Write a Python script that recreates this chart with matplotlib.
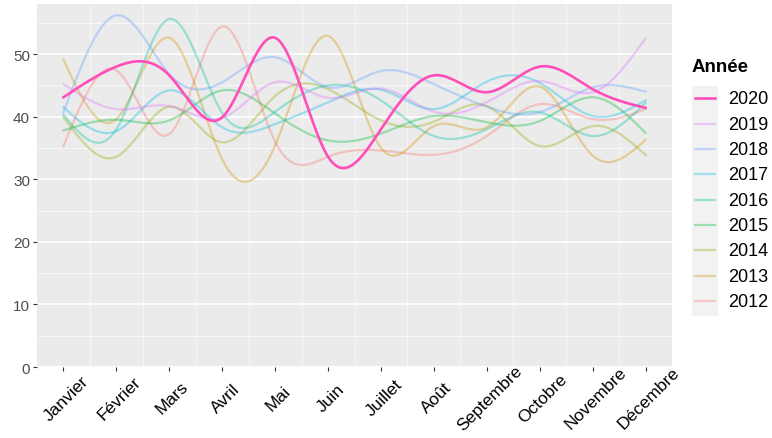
import numpy as np
import matplotlib
matplotlib.use("Agg")
import matplotlib.pyplot as plt
import matplotlib.transforms as mtransforms
from matplotlib.patches import Rectangle

plt.rcParams["font.family"] = ["Liberation Sans", "DejaVu Sans"]

months = ["Janvier", "Février", "Mars", "Avril", "Mai", "Juin", "Juillet",
          "Août", "Septembre", "Octobre", "Novembre", "Décembre"]
years = ["2020", "2019", "2018", "2017", "2016", "2015", "2014", "2013", "2012"]

v2020 = [43.1, 48.0, 46.6, 39.9, 52.6, 33.6, 38.0, 46.6, 43.9, 48.0, 44.4, 41.4]
v2019 = [45.2, 41.2, 41.7, 39.8, 45.5, 43.0, 44.5, 40.8, 42.3, 45.7, 43.9, 52.5]
v2018 = [40.7, 56.2, 46.8, 45.5, 49.5, 44.7, 47.3, 45.2, 41.6, 40.7, 44.7, 44.0]
v2017 = [41.5, 37.7, 44.2, 38.3, 38.8, 42.3, 44.3, 41.2, 45.6, 45.4, 40.1, 42.6]
v2016 = [40.3, 38.0, 55.6, 40.6, 40.8, 45.0, 42.6, 36.9, 38.0, 40.7, 36.9, 42.2]
v2015 = [37.8, 39.5, 39.4, 44.2, 40.5, 36.2, 37.3, 40.1, 39.1, 39.3, 43.1, 37.4]
v2014 = [39.9, 33.6, 41.6, 35.9, 43.3, 44.4, 39.4, 39.2, 41.7, 35.3, 38.5, 33.9]
v2013 = [49.1, 39.6, 52.6, 33.2, 35.4, 52.9, 35.0, 38.5, 38.3, 44.8, 33.8, 36.3]
v2012 = [35.3, 47.4, 37.2, 54.4, 36.0, 33.6, 34.6, 33.9, 36.9, 42.0, 39.6, 41.2]

series = [v2020, v2019, v2018, v2017, v2016, v2015, v2014, v2013, v2012]
colors = ["#FF4DBA", "#DB72FB", "#619CFF", "#00B9E3", "#00C19F",
          "#00BA38", "#93AA00", "#D39200", "#F8766D"]


def smooth(y, n=30):
    """Natural cubic spline through equally spaced monthly values."""
    y = np.asarray(y, dtype=float)
    k = len(y)
    a = np.zeros((k, k))
    b = np.zeros(k)
    a[0, 0] = a[-1, -1] = 1
    for i in range(1, k - 1):
        a[i, i - 1], a[i, i], a[i, i + 1] = 1, 4, 1
        b[i] = 6 * (y[i + 1] - 2 * y[i] + y[i - 1])
    m = np.linalg.solve(a, b)
    xs, ys = [], []
    for i in range(k - 1):
        u = np.linspace(0, 1, n, endpoint=(i == k - 2))
        s = ((1 - u) * y[i] + u * y[i + 1]
             + ((1 - u) ** 3 - (1 - u)) * m[i] / 6 + (u ** 3 - u) * m[i + 1] / 6)
        xs.append(i + 1 + u)
        ys.append(s)
    return np.concatenate(xs), np.concatenate(ys)


fig = plt.figure(figsize=(7.72, 4.39), dpi=100)
ax = fig.add_axes([37 / 772, 1 - 368 / 439, 635 / 772, 363 / 439])
ax.set_facecolor("#EBEBEB")

# grid in ggplot style
ax.set_yticks(range(0, 51, 10))
ax.set_yticks(range(5, 56, 10), minor=True)
ax.set_xticks(range(1, 13))
ax.set_xticks(np.arange(1.5, 12, 1), minor=True)
ax.grid(True, which="major", axis="y", color="white", lw=1.2)
ax.grid(True, which="minor", axis="both", color="white", lw=0.6, alpha=0.7)
ax.set_axisbelow(True)

for vals, col, yr in reversed(list(zip(series, colors, years))):
    xs, ys = smooth(vals)
    if yr == "2020":
        ax.plot(xs, ys, color=col, lw=1.9, zorder=5)
    else:
        ax.plot(xs, ys, color=col, lw=1.6, alpha=0.35, zorder=3)

ax.set_xlim(0.5, 12.5)
ax.set_ylim(0, 58)
for s in ax.spines.values():
    s.set_visible(False)
ax.tick_params(axis="both", which="major", length=3, width=0.8, color="#333333")
ax.tick_params(axis="both", which="minor", length=0)
ax.tick_params(axis="y", labelsize=11, labelcolor="#4D4D4D", pad=2)
ax.tick_params(axis="x", labelsize=12.5, labelcolor="black", pad=19)
ax.set_xticklabels(months, rotation=45, ha="center", va="center",
                   rotation_mode="anchor")
shift = mtransforms.ScaledTranslation(3 / 100, 0, fig.dpi_scale_trans)
for lab in ax.get_xticklabels():
    lab.set_transform(lab.get_transform() + shift)

# legend drawn in pixel coordinates
lax = fig.add_axes([0, 0, 1, 1])
lax.set_xlim(0, 772)
lax.set_ylim(439, 0)
lax.axis("off")
lax.text(692, 67, "Année", fontsize=13.5, fontweight="bold", va="center", ha="left")
lax.add_patch(Rectangle((691.5, 86.5), 26, 230, color="#F2F2F2", lw=0))
for i, (yr, col) in enumerate(zip(years, colors)):
    y = 99.3 + i * 25.33
    alpha = 1 if yr == "2020" else 0.35
    lax.plot([695, 715], [y, y], color=col, lw=1.9 if yr == "2020" else 1.6, alpha=alpha)
    lax.text(728, y + 0.5, yr, fontsize=13, va="center", ha="left")

fig.savefig("out.png", dpi=100)
